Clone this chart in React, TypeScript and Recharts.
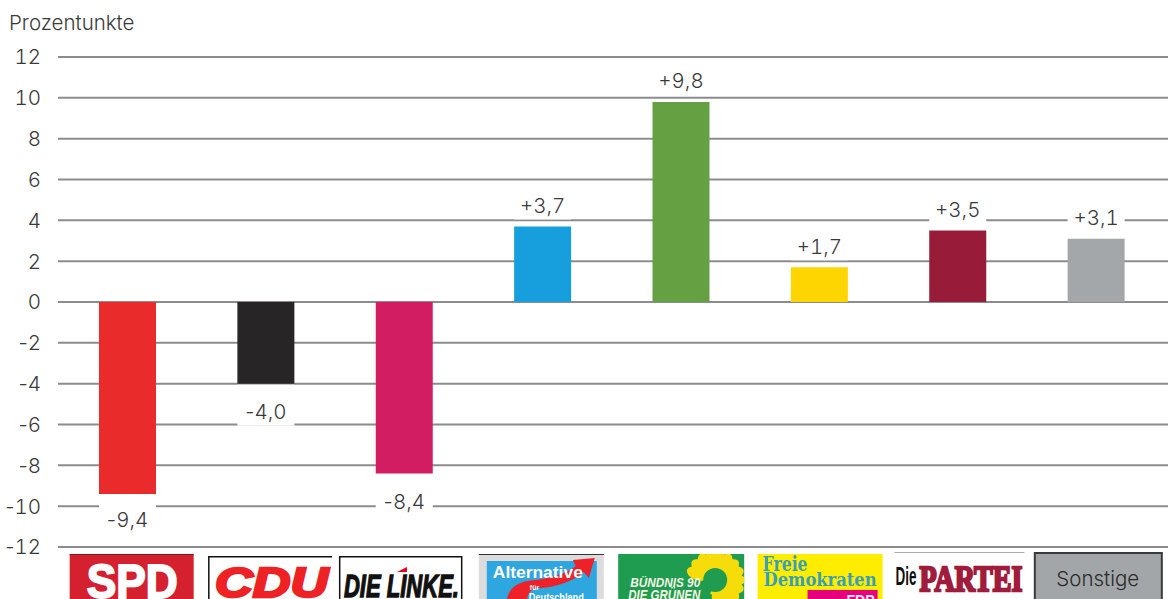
import { BarChart, Bar, XAxis, YAxis, CartesianGrid, Cell, LabelList } from "recharts";

const PARTIES = ["SPD", "CDU", "DIE LINKE", "AfD", "GRUENE", "FDP", "PARTEI", "Sonstige"];
const CHANGES = [-9.4, -4.0, -8.4, 3.7, 9.8, 1.7, 3.5, 3.1];
const BAR_COLORS = ["#ea2b2b", "#272526", "#d21d62", "#179edd", "#65a143", "#ffd500", "#981b3a", "#a4a7a9"];
const Y_TICKS = [-12, -10, -8, -6, -4, -2, 0, 2, 4, 6, 8, 10, 12];

const chartData = PARTIES.map((name, i) => ({ name, value: CHANGES[i] }));

const FONT = "'Liberation Sans', Arial, sans-serif";
const LIGHT_FONT = "Inter, 'Liberation Sans', sans-serif";
const TEXT_COLOR = "#3a3a3a";
const TEXT_SIZE = 20.5;
const PETALS = [-70, -50, -30, -10, 10, 30, 50, 70, 90, 110, 130, 150, 170];

const formatChange = (v: number) => (v > 0 ? "+" : "") + v.toFixed(1).replace(".", ",");

// tabular digits are closer to the original's, but the minus must stay narrow
function Digits({ text }: { text: string }) {
  const minus = text.startsWith("-");
  return (
    <>
      {minus && <tspan>-</tspan>}
      <tspan style={{ fontVariantNumeric: "tabular-nums" }}>{minus ? text.slice(1) : text}</tspan>
    </>
  );
}

// white box behind the value so the grid line is knocked out
function ValueLabel({ x, y, width, height, value }: any) {
  const negative = value < 0;
  const cx = x + width / 2;
  const end = negative ? Math.max(y, y + height) : Math.min(y, y + height);
  const textY = negative ? end + (value < -9 ? 26 : 28) : end - 21;
  const boxTop = negative ? end + 1 : textY - 14;
  const boxBottom = textY + 14;
  return (
    <g>
      <rect x={x} y={boxTop} width={width} height={boxBottom - boxTop} fill="#fff" />
      <text x={cx} y={textY} dy="0.36em" textAnchor="middle" fontSize={TEXT_SIZE} fontWeight={300} fontFamily={LIGHT_FONT} fill={TEXT_COLOR}>
        <Digits text={formatChange(value)} />
      </text>
    </g>
  );
}

function ValueTick({ x, y, payload }: any) {
  return (
    <text x={x} y={y} dy="0.36em" textAnchor="end" fontSize={TEXT_SIZE} fontWeight={300} fontFamily={LIGHT_FONT} fill={TEXT_COLOR}>
      <Digits text={String(payload.value)} />
    </text>
  );
}

function SpdLogo() {
  return (
    <g>
      <rect width={124} height={46} fill="#d5202f" />
      <rect width={124} height={1} fill="#7a1a20" />
      <text x={17} y={44} fontSize={49} fontWeight={700} fontFamily={FONT} fill="#fff" stroke="#fff" strokeWidth={2} textLength={91} lengthAdjust="spacingAndGlyphs">SPD</text>
    </g>
  );
}

function CduLogo() {
  return (
    <g>
      <rect width={124} height={44} fill="#fff" />
      <rect width={124} height={1.5} fill="#111" />
      <rect width={1.5} height={44} fill="#111" />
      <text x={7} y={41} fontSize={42} fontWeight={700} fontStyle="italic" fontFamily={FONT} fill="#ee2224" stroke="#ee2224" strokeWidth={2.5} textLength={113} lengthAdjust="spacingAndGlyphs">CDU</text>
    </g>
  );
}

function LinkeLogo() {
  return (
    <g>
      <rect x={0.75} y={0.75} width={122} height={46} fill="#fff" stroke="#111" strokeWidth={1.5} />
      <text x={5} y={41} fontSize={31} fontWeight={700} fontStyle="italic" fontFamily={FONT} fill="#111" stroke="#111" strokeWidth={1.3} textLength={115} lengthAdjust="spacingAndGlyphs">DIE LINKE.</text>
      <path d="M58 16 L68 11 L68 16 Z" fill="#e2001a" />
    </g>
  );
}

function AfdLogo() {
  return (
    <g>
      <rect width={125} height={46} fill="#dcdcdc" />
      <rect width={125} height={1} fill="#333" />
      <rect x={8} y={7} width={110} height={39} fill="#2ea6e0" />
      <path d="M28 46 C30 32 42 27 56 26 C72 24 88 20 97 12 L94 6 L116 4 L110 24 L105 18 C96 26 78 34 58 34 C52 35 49 40 48 46 Z" fill="#ee2028" />
      <text x={14} y={24} fontSize={16.5} fontWeight={700} fontFamily={FONT} fill="#fff" textLength={90} lengthAdjust="spacingAndGlyphs">Alternative</text>
      <text x={51} y={36} fontSize={7} fontWeight={700} fontFamily={FONT} fill="#fff">für</text>
      <text x={50} y={47} fontSize={10} fontWeight={700} fontFamily={FONT} fill="#fff" textLength={55} lengthAdjust="spacingAndGlyphs">Deutschland</text>
    </g>
  );
}

function GreenLogo() {
  return (
    <g>
      <clipPath id="green-logo-clip">
        <rect width={126} height={46} />
      </clipPath>
      <rect width={126} height={46} fill="#1f9c4f" />
      <g clipPath="url(#green-logo-clip)">
        {PETALS.map((a) => (
          <ellipse key={a} cx={97} cy={7} rx={6.5} ry={11} fill="#f7dc0c" transform={`rotate(${a} 97 26)`} />
        ))}
        <path d="M85 18 A15 15 0 1 1 92 40 L97 26 Z" fill="#f7dc0c" />
        <circle cx={97} cy={26} r={12} fill="#1f9c4f" />
      </g>
      <text x={12} y={33} fontSize={13} fontWeight={700} fontStyle="italic" fontFamily={FONT} fill="#f4f4e4" textLength={70} lengthAdjust="spacingAndGlyphs">BÜNDNIS 90</text>
      <text x={10} y={46} fontSize={15} fontWeight={700} fontStyle="italic" fontFamily={FONT} fill="#f4f4e4" textLength={72} lengthAdjust="spacingAndGlyphs">DIE GRÜNEN</text>
    </g>
  );
}

function FdpLogo() {
  return (
    <g>
      <rect width={125} height={46} fill="#ffed00" />
      <text x={5} y={17} fontSize={20} fontWeight={700} fontFamily="'DejaVu Serif', serif" fill="#3a9fb5" textLength={45} lengthAdjust="spacingAndGlyphs">Freie</text>
      <text x={6} y={32} fontSize={18} fontWeight={700} fontFamily="'DejaVu Serif', serif" fill="#3a9fb5" textLength={113} lengthAdjust="spacingAndGlyphs">Demokraten</text>
      <rect x={50} y={36} width={70} height={10} fill="#e5007d" />
      <text x={117} y={51} textAnchor="end" fontSize={14} fontWeight={700} fontFamily={FONT} fill="#fbe6f0">FDP</text>
    </g>
  );
}

function ParteiLogo() {
  return (
    <g>
      <rect width={130} height={47} fill="#fff" />
      <rect width={130} height={1} fill="#aaa" />
      <text x={1} y={33} fontSize={26} fontWeight={700} fontFamily={FONT} fill="#111" textLength={21} lengthAdjust="spacingAndGlyphs">Die</text>
      <text x={25} y={39} fontSize={35} fontWeight={700} fontFamily="'Liberation Serif', serif" fill="#a01c3c" stroke="#a01c3c" strokeWidth={2.4} textLength={103} lengthAdjust="spacingAndGlyphs">PARTEI</text>
    </g>
  );
}

function OtherLogo() {
  return (
    <g>
      <rect x={1} y={1} width={127} height={48} fill="#a3a6a8" stroke="#3a3a3a" strokeWidth={2} />
      <text x={64} y={27} dy="0.36em" textAnchor="middle" fontSize={TEXT_SIZE} fontWeight={300} fontFamily={LIGHT_FONT} fill="#2a2a2a">Sonstige</text>
    </g>
  );
}

// left edge relative to the bar centre, top relative to the axis line
const LOGOS: Record<string, { dx: number; dy: number; Logo: () => any }> = {
  SPD: { dx: -57.5, dy: 7, Logo: SpdLogo },
  CDU: { dx: -57.5, dy: 9, Logo: CduLogo },
  "DIE LINKE": { dx: -65, dy: 9, Logo: LinkeLogo },
  AfD: { dx: -63.5, dy: 7, Logo: AfdLogo },
  GRUENE: { dx: -62.5, dy: 7, Logo: GreenLogo },
  FDP: { dx: -61.5, dy: 7, Logo: FdpLogo },
  PARTEI: { dx: -63, dy: 5, Logo: ParteiLogo },
  Sonstige: { dx: -62, dy: 5, Logo: OtherLogo },
};

function LogoTick({ x, y, payload }: any) {
  const { dx, dy, Logo } = LOGOS[payload.value];
  return (
    <g transform={`translate(${x + dx} ${y + dy})`}>
      <Logo />
    </g>
  );
}

export default function App() {
  return (
    <div style={{ position: "absolute", left: 0, top: 0, width: 1168, height: 599, overflow: "hidden", background: "#fff" }}>
      <div style={{ position: "absolute", left: 9, top: 11, fontFamily: LIGHT_FONT, fontWeight: 300, fontSize: TEXT_SIZE, lineHeight: "24px", color: TEXT_COLOR }}>
        Prozentunkte
      </div>
      <BarChart width={1168} height={599} data={chartData} margin={{ top: 57, right: 0, bottom: 0, left: 0 }} barSize={57}>
        <CartesianGrid horizontal vertical={false} stroke="#8c8c8c" strokeWidth={2} />
        <XAxis
          dataKey="name"
          axisLine={false}
          tickLine={false}
          tickSize={0}
          tickMargin={0}
          height={52}
          interval={0}
          padding={{ left: 0, right: 3 }}
          tick={LogoTick}
        />
        <YAxis
          type="number"
          domain={[-12, 12]}
          ticks={Y_TICKS}
          interval={0}
          width={58}
          axisLine={false}
          tickLine={false}
          tickSize={0}
          tickMargin={17}
          tick={ValueTick}
        />
        <Bar dataKey="value" isAnimationActive={false}>
          {chartData.map((d, i) => (
            <Cell key={d.name} fill={BAR_COLORS[i]} />
          ))}
          <LabelList dataKey="value" content={ValueLabel} />
        </Bar>
      </BarChart>
    </div>
  );
}
